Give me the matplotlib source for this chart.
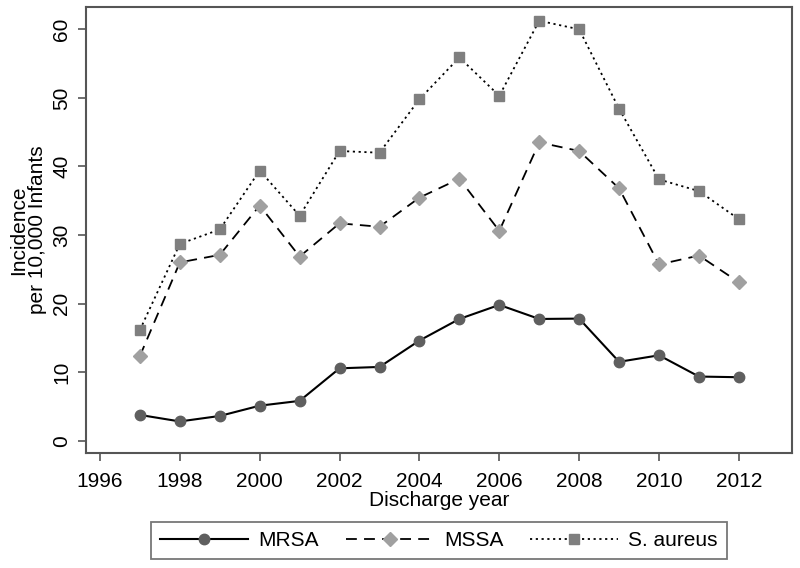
import matplotlib
matplotlib.use("Agg")
import matplotlib.pyplot as plt

plt.rcParams['font.family'] = ['Liberation Sans', 'DejaVu Sans']

years = list(range(1997, 2013))
mrsa = [3.75, 2.8, 3.6, 5.1, 5.8, 10.55, 10.75, 14.6, 17.75, 19.8, 17.75, 17.8, 11.5, 12.45, 9.35, 9.25]
mssa = [12.35, 26.0, 27.1, 34.3, 26.85, 31.7, 31.2, 35.45, 38.2, 30.6, 43.5, 42.25, 36.8, 25.7, 27.0, 23.1]
saureus = [16.15, 28.7, 30.8, 39.4, 32.8, 42.25, 42.0, 49.8, 55.9, 50.3, 61.25, 60.0, 48.4, 38.1, 36.4, 32.3]

xticks = list(range(1996, 2013, 2))
yticks = [0, 10, 20, 30, 40, 50, 60]

fig = plt.figure(figsize=(8, 5.68), dpi=100)
ax = fig.add_axes([0.1075, 0.2025, 0.8825, 0.7845])

ax.plot(years, mrsa, color='black', linestyle='-', linewidth=1.5,
        marker='o', markersize=7.5, markerfacecolor='#5f5f5f', markeredgecolor='#5f5f5f',
        label='MRSA')
ax.plot(years, mssa, color='black', linestyle=(0, (6, 4)), linewidth=1.3,
        marker='D', markersize=7.5, markerfacecolor='#a0a0a0', markeredgecolor='#a0a0a0',
        label='MSSA')
ax.plot(years, saureus, color='black', linestyle=(0, (1.2, 2)), linewidth=1.3,
        marker='s', markersize=7, markerfacecolor='#7f7f7f', markeredgecolor='#7f7f7f',
        label='S. aureus')

ax.set_xlim(1995.65, 2013.33)
ax.set_ylim(-1.8, 63.2)
ax.set_xticks(xticks)
ax.set_yticks(yticks)
ax.tick_params(axis='both', length=6, width=1.2, color='#555555', labelsize=15)
ax.tick_params(axis='x', pad=7.5)
ax.tick_params(axis='y', pad=4.5)
for lbl in ax.get_yticklabels():
    lbl.set_rotation(90)
    lbl.set_va('center')

for s in ax.spines.values():
    s.set_color('#555555')
    s.set_linewidth(1.5)

ax.set_xlabel('Discharge year', fontsize=15, labelpad=0)
ax.set_ylabel('Incidence\nper 10,000 Infants', fontsize=15, labelpad=4, linespacing=1.0)

leg = ax.legend(loc='upper center', bbox_to_anchor=(0.5, -0.154), ncol=3,
                fontsize=15, handlelength=4.2, handletextpad=0.5, columnspacing=1.3,
                frameon=True, fancybox=False, borderpad=0.45, borderaxespad=0)
leg.get_frame().set_edgecolor('#555555')
leg.get_frame().set_linewidth(1.3)

fig.savefig('out.png', dpi=100)
